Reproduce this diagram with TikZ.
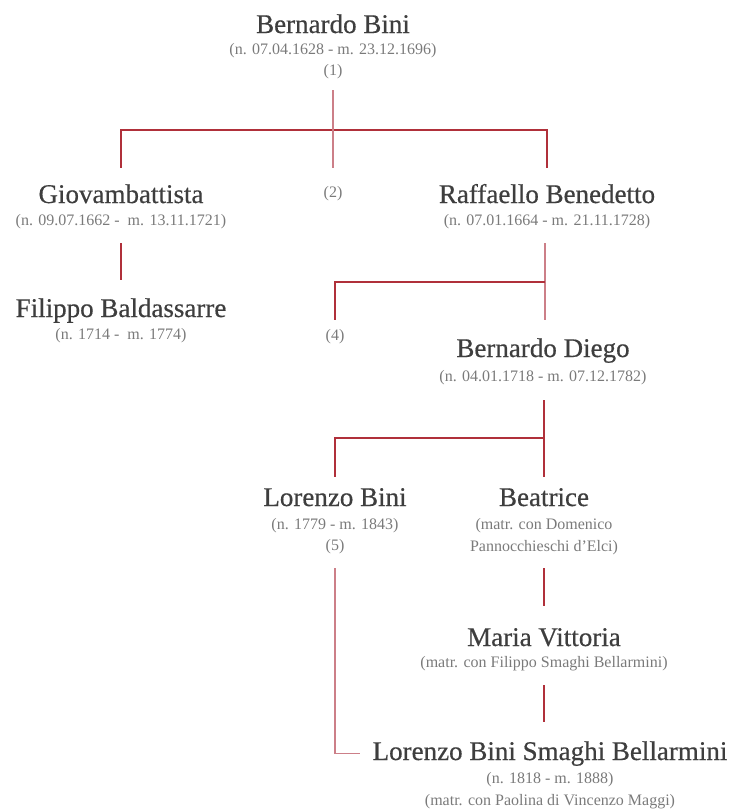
\documentclass[tikz,border=0pt]{standalone}
\usepackage{fontspec}
\setmainfont{Liberation Serif}
\newfontfamily\namefont[FakeBold=0.5]{Liberation Serif}
\usetikzlibrary{positioning}
\definecolor{inkc}{HTML}{3E3E3E}
\definecolor{greyc}{HTML}{7A7A7A}
\definecolor{linec}{HTML}{B0303A}
\definecolor{softc}{HTML}{CC7F88}
\tikzset{
  nm/.style={inkc,font=\namefont\fontsize{27}{30}\selectfont,inner sep=0pt,anchor=base,text height=19pt,text depth=6pt},
  dt/.style={greyc,font=\fontsize{16}{18}\selectfont,inner sep=0pt,anchor=base,text height=12pt,text depth=4pt},
  ln/.style={linec,line width=1.2pt},
  lns/.style={softc,line width=1.2pt}
}
\begin{document}
\begin{tikzpicture}[x=1pt,y=-1pt]
\useasboundingbox (0,0) rectangle (730,809);
% first generation
\node[nm] (bini) at (333,33) {Bernardo Bini};
\node[dt] (bini-d) at (333,54) {(n. 07.04.1628 - m. 23.12.1696)};
\node[dt] (bini-n) at (333,75) {(1)};
% sons
\node[nm] (gio) at (121,203) {Giovambattista};
\node[dt] (gio-d) at (121,225) {(n. 09.07.1662 -\ \ m. 13.11.1721)};
\node[dt] (n2) at (333,197) {(2)};
\node[nm] (raf) at (547,203) {Raffaello Benedetto};
\node[dt] (raf-d) at (547,225) {(n. 07.01.1664 - m. 21.11.1728)};
% grandsons
\node[nm] (fil) at (121,317) {Filippo Baldassarre};
\node[dt] (fil-d) at (121,339) {(n. 1714 -\ \ m. 1774)};
\node[dt] (n4) at (335,340) {(4)};
\node[nm] (die) at (543,357) {Bernardo Diego};
\node[dt] (die-d) at (543,381) {(n. 04.01.1718 - m. 07.12.1782)};
% fourth generation
\node[nm] (lor) at (335,506) {Lorenzo Bini};
\node[dt] (lor-d) at (335,529) {(n. 1779 - m. 1843)};
\node[dt] (n5) at (335,550) {(5)};
\node[nm] (bea) at (544,506) {Beatrice};
\node[dt] (bea-d) at (544,529) {(matr. con Domenico};
\node[dt] (bea-e) at (544,551) {Pannocchieschi d’Elci)};
\node[nm] (mv) at (544,646) {Maria Vittoria};
\node[dt] (mv-d) at (544,667) {(matr. con Filippo Smaghi Bellarmini)};
\node[nm] (lbsb) at (550,760) {Lorenzo Bini Smaghi Bellarmini};
\node[dt] (lbsb-d) at (550,783) {(n. 1818 - m. 1888)};
\node[dt] (lbsb-e) at (550,805) {(matr. con Paolina di Vincenzo Maggi)};
% junctions
\coordinate (j1) at (333,130);
\coordinate (j2) at (545,282);
\coordinate (j3) at (544,438);
% lines
\draw[ln,shorten <=16pt,shorten >=16pt] (gio.north) |- (j1) -| (raf.north);
\draw[lns,shorten <=11pt,shorten >=17pt] (bini-n.south) -- (n2.north);
\draw[ln,shorten <=14pt,shorten >=18pt] (gio-d.south) -- (fil.north);
\draw[lns,shorten <=14pt,shorten >=18pt] (j2 |- raf-d.south) -- (j2 |- die.north);
\draw[ln,shorten >=8pt] (j2) -| (n4.north);
\draw[ln,shorten <=15pt,shorten >=10pt] (j3 |- die-d.south) -- (j3 |- bea.north);
\draw[ln,shorten >=10pt] (j3) -| (lor.north);
\draw[ln,shorten <=13pt,shorten >=21pt] (bea-e.south) -- (mv.north);
\draw[ln,shorten <=14pt,shorten >=19pt] (mv-d.south) -- (mv-d.south |- lbsb.north);
\draw[lns,shorten <=14pt,shorten >=12pt] (n5.south) |- (lbsb.west);
\end{tikzpicture}
\end{document}
